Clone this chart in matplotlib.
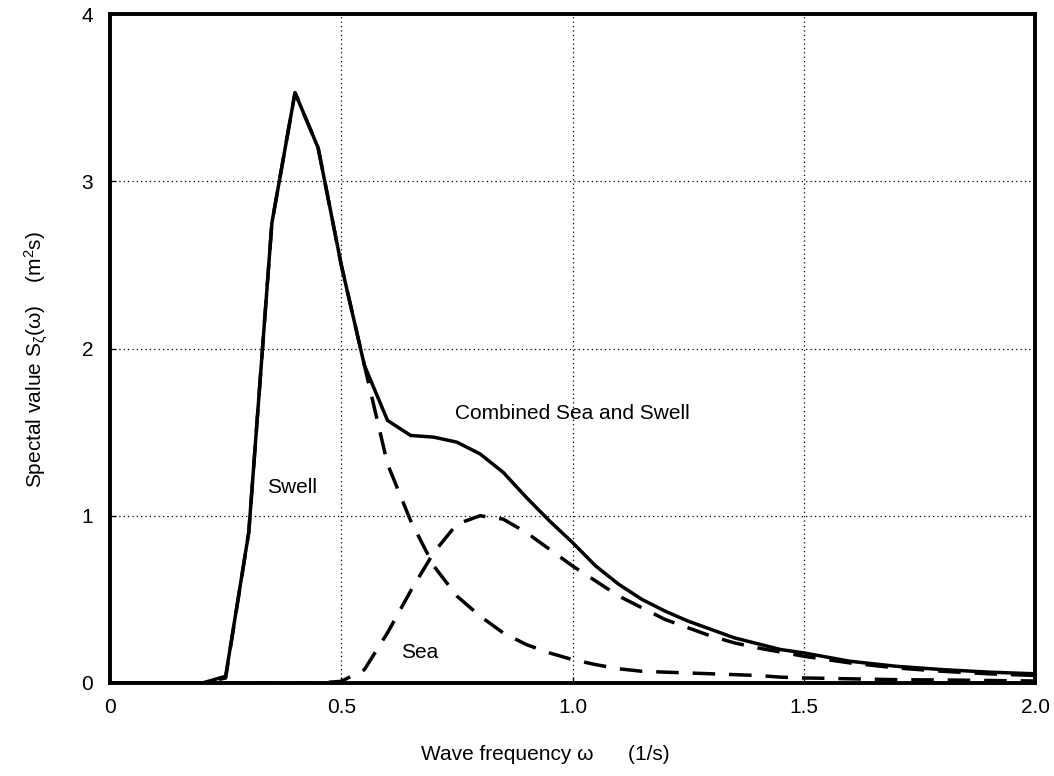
import matplotlib
matplotlib.use("Agg")
import matplotlib.pyplot as plt

plt.rcParams['font.family'] = ['Liberation Sans', 'DejaVu Sans']
plt.rcParams['mathtext.fontset'] = 'custom'
plt.rcParams['mathtext.rm'] = 'Liberation Sans'
plt.rcParams['mathtext.it'] = 'Liberation Sans'

omega = [0.0, 0.2, 0.25, 0.3, 0.35, 0.4, 0.45, 0.5, 0.55, 0.6, 0.65, 0.7, 0.75, 0.8,
         0.85, 0.9, 0.95, 1.0, 1.05, 1.1, 1.15, 1.2, 1.25, 1.3, 1.35, 1.4, 1.45, 1.5,
         1.55, 1.6, 1.7, 1.8, 1.9, 2.0]
combined = [0.0, 0.0, 0.04, 0.9, 2.75, 3.53, 3.2, 2.5, 1.9, 1.57, 1.48, 1.47, 1.44, 1.37,
            1.26, 1.11, 0.97, 0.84, 0.70, 0.59, 0.50, 0.43, 0.37, 0.32, 0.27, 0.235, 0.20, 0.18,
            0.155, 0.13, 0.10, 0.08, 0.065, 0.055]
swell = [0.0, 0.0, 0.03, 0.9, 2.75, 3.53, 3.2, 2.5, 1.9, 1.31, 0.97, 0.70, 0.52, 0.40,
         0.30, 0.23, 0.18, 0.14, 0.11, 0.085, 0.07, 0.065, 0.06, 0.055, 0.05, 0.045, 0.035, 0.03,
         0.028, 0.025, 0.02, 0.018, 0.015, 0.012]
sea = [0.0, 0.0, 0.0, 0.0, 0.0, 0.0, 0.0, 0.01, 0.08, 0.30, 0.55, 0.78, 0.95, 1.0,
       0.98, 0.90, 0.80, 0.70, 0.61, 0.52, 0.45, 0.38, 0.33, 0.28, 0.24, 0.21, 0.185, 0.16,
       0.14, 0.12, 0.09, 0.07, 0.055, 0.045]

xticks = [0, 0.5, 1.0, 1.5, 2.0]
xticklabels = ["0", "0.5", "1.0", "1.5", "2.0"]
yticks = [0, 1, 2, 3, 4]
yticklabels = ["0", "1", "2", "3", "4"]

FS = 15

fig = plt.figure(figsize=(10.54, 7.76), dpi=100)
ax = fig.add_axes([110/1054, 1-683/776, 925/1054, 669/776])

ax.plot(omega, combined, color='black', lw=2.5, solid_joinstyle='miter')
ax.plot(omega, swell, color='black', lw=2.5, dashes=(6.5, 4))
ax.plot(omega, sea, color='black', lw=2.5, dashes=(6.5, 4))

ax.set_xlim(0, 2)
ax.set_ylim(0, 4)
ax.set_xticks(xticks)
ax.set_xticklabels(xticklabels)
ax.set_yticks(yticks)
ax.set_yticklabels(yticklabels)
ax.grid(True, color='black', linestyle=(0, (1, 2.5)), linewidth=0.9)
ax.tick_params(axis='x', direction='in', length=4, width=1, labelsize=FS, pad=11)
ax.tick_params(axis='y', direction='in', length=4, width=1, labelsize=FS, pad=12)
for s in ax.spines.values():
    s.set_linewidth(2.8)

ax.text(0.394, 1.17, "Swell", fontsize=FS, ha='center', va='center')
ax.text(0.670, 0.185, "Sea", fontsize=FS, ha='center', va='center')
ax.text(1.0, 1.61, "Combined Sea and Swell", fontsize=FS, ha='center', va='center')

ax.set_xlabel("Wave frequency ω      (1/s)", fontsize=FS)
ax.xaxis.set_label_coords(0.471, -0.093)
ax.set_ylabel(r"Spectal value S$_{ζ}$(ω)    (m$^{2}$s)", fontsize=FS)
ax.yaxis.set_label_coords(-0.065, 0.483)

fig.savefig("out.png", dpi=100)
